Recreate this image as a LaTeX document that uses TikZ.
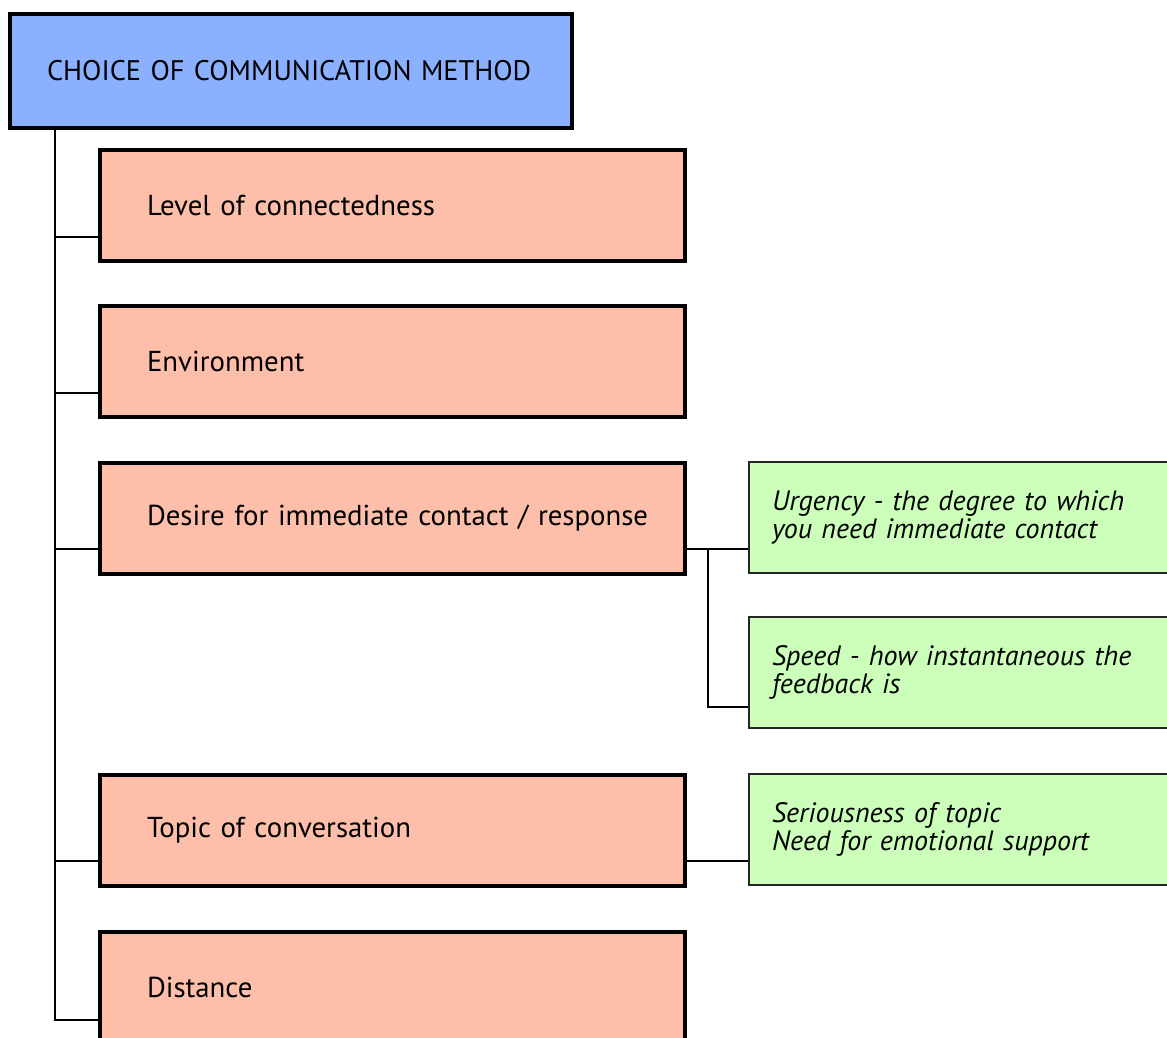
\documentclass[tikz,border=0pt]{standalone}
\usepackage{fontspec}
\setmainfont{PT Sans}[WordSpace=0.75]
\usetikzlibrary{calc}
\definecolor{titleblue}{HTML}{8AB0FF}
\definecolor{salmon}{HTML}{FDBFAA}
\definecolor{lightgreen}{HTML}{CCFFBA}
\tikzset{
  titlebox/.style={draw=black, line width=4pt, fill=titleblue, anchor=north west,
    minimum width=562pt, minimum height=114pt, inner xsep=37pt, text width=488pt,
    align=left, font=\fontsize{28.3}{30}\selectfont},
  mainbox/.style={draw=black, line width=4pt, fill=salmon, anchor=north west,
    minimum height=111pt, inner xsep=47pt, text width=491pt, align=left,
    font=\fontsize{28.8}{30}\selectfont},
  subbox/.style={draw=black!85, line width=2.2pt, fill=lightgreen, anchor=north west,
    minimum height=111pt, inner xsep=23pt, text width=420pt, align=left,
    font=\fontsize{28}{28}\selectfont\itshape},
  conn/.style={draw=black, line width=2pt}
}
\begin{document}
\begin{tikzpicture}[x=1pt,y=-1pt]
\useasboundingbox[fill=white] (0,0) rectangle (1167,1038);
\node[titlebox] (title) at (8,12) {\mbox{CHOICE OF COMMUNICATION METHOD}};
\node[mainbox] (b1) at (98,148) {Level of connectedness};
\node[mainbox] (b2) at (98,304) {Environment};
\node[mainbox] (b3) at (98,461) {\mbox{Desire for immediate contact / response}};
\node[mainbox] (b4) at (98,773) {Topic of conversation};
\node[mainbox] (b5) at (98,930) {Distance};
\node[subbox] (g1) at (748,461) {Urgency - the degree to which\\you need immediate contact};
\node[subbox] (g2) at (748,616) {Speed - how instantaneous the\\feedback is};
\node[subbox] (g3) at (748,773) {Seriousness of topic\\Need for emotional support};
\coordinate (trunkend) at ($(b5.north west)+(0,90)$);
\draw[conn] ($(title.south west)+(47,0)$) |- (trunkend);
\draw[conn] ($(b1.north west)+(-43,89)$) -- ($(b1.north west)+(0,89)$);
\draw[conn] ($(b2.north west)+(-43,89)$) -- ($(b2.north west)+(0,89)$);
\draw[conn] ($(b3.north west)+(-43,88)$) -- ($(b3.north west)+(0,88)$);
\draw[conn] ($(b4.north west)+(-43,88)$) -- ($(b4.north west)+(0,88)$);
\draw[conn] ($(b3.north east)+(0,88)$) -- ($(g1.north west)+(0,88)$);
\coordinate (j) at ($(b3.north east)+(21,88)$);
\draw[conn] (j) |- ($(g2.north west)+(0,91)$);
\draw[conn] ($(b4.north east)+(0,88)$) -- ($(g3.north west)+(0,88)$);
\end{tikzpicture}
\end{document}
